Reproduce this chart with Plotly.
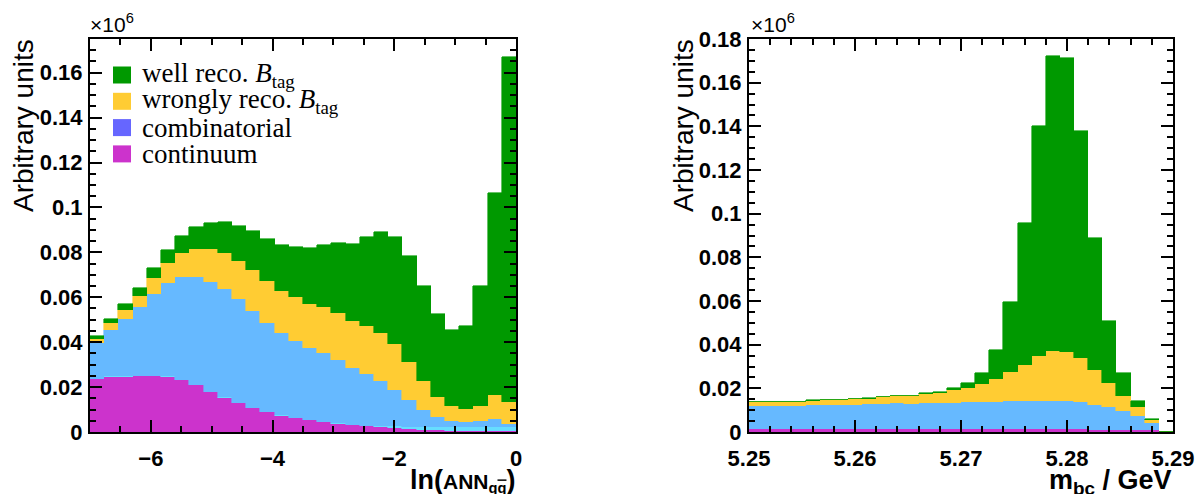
import plotly.graph_objects as go

# ---------------- data (left panel: ln(ANN_qq) ) ----------------
ann_lo, ann_hi, ann_nbins = -7.0, 0.0, 30
ann_continuum = [0.0236, 0.0247, 0.0247, 0.0250, 0.0250, 0.0247, 0.0230, 0.0209, 0.0179, 0.0153,
                 0.0129, 0.0105, 0.0087, 0.0073, 0.0062, 0.0052, 0.0044, 0.0037, 0.0031, 0.0025,
                 0.0021, 0.0016, 0.0012, 0.0009, 0.0007, 0.0006, 0.0004, 0.0004, 0.0003, 0.0003]
ann_other = [0.0001, 0.0001, 0.0001, 0.0001, 0.0001, 0.0001, 0.0001, 0.0001, 0.0001, 0.0001,
             0.0001, 0.0001, 0.0001, 0.0001, 0.0001, 0.0001, 0.0001, 0.0002, 0.0002, 0.0003,
             0.0005, 0.0009, 0.0012, 0.0015, 0.0017, 0.0018, 0.0019, 0.0019, 0.0020, 0.0020]
ann_combinatorial = [0.0159, 0.0207, 0.0257, 0.0306, 0.0365, 0.0414, 0.0459, 0.0480, 0.0490, 0.0485,
                     0.0463, 0.0433, 0.0399, 0.0367, 0.0343, 0.0320, 0.0305, 0.0282, 0.0253, 0.0231,
                     0.0202, 0.0163, 0.0120, 0.0075, 0.0044, 0.0025, 0.0020, 0.0024, 0.0033, 0.0013]
ann_wrong = [0.0017, 0.0029, 0.0039, 0.0050, 0.0068, 0.0089, 0.0109, 0.0125, 0.0143, 0.0160,
             0.0168, 0.0181, 0.0186, 0.0187, 0.0195, 0.0197, 0.0207, 0.0211, 0.0209, 0.0211,
             0.0213, 0.0202, 0.0167, 0.0126, 0.0089, 0.0065, 0.0059, 0.0070, 0.0111, 0.0099]
ann_well = [0.0015, 0.0018, 0.0026, 0.0033, 0.0045, 0.0059, 0.0075, 0.0098, 0.0117, 0.0134,
            0.0156, 0.0173, 0.0188, 0.0203, 0.0223, 0.0248, 0.0274, 0.0308, 0.0342, 0.0397,
            0.0448, 0.0477, 0.0473, 0.0425, 0.0369, 0.0338, 0.0371, 0.0535, 0.0897, 0.1535]

# ---------------- data (right panel: m_bc) ----------------
mbc_lo, mbc_hi, mbc_nbins = 5.25, 5.29, 30
mbc_continuum = [0.0016] * 16 + [0.0015, 0.0015, 0.0014, 0.0014, 0.0013, 0.0013, 0.0012, 0.0012,
                                 0.0011, 0.0011, 0.0010, 0.0009, 0.0008, 0.0]
mbc_combinatorial = [0.0102, 0.0102, 0.0102, 0.0103, 0.0106, 0.0106, 0.0108, 0.0109, 0.0111, 0.0112,
                     0.0115, 0.0111, 0.0115, 0.0119, 0.0119, 0.0120, 0.0121, 0.0124, 0.0127, 0.0127,
                     0.0131, 0.0129, 0.0129, 0.0126, 0.0111, 0.0102, 0.0085, 0.0066, 0.0034, 0.0]
mbc_wrong = [0.0018, 0.0018, 0.0020, 0.0019, 0.0022, 0.0023, 0.0023, 0.0025, 0.0024, 0.0031,
             0.0033, 0.0038, 0.0043, 0.0045, 0.0056, 0.0066, 0.0083, 0.0103, 0.0133, 0.0166,
             0.0203, 0.0227, 0.0224, 0.0201, 0.0161, 0.0112, 0.0070, 0.0038, 0.0015, 0.0]
mbc_well = [0.0001] * 8 + [0.0003, 0.0002, 0.0001, 0.0002, 0.0003, 0.0005, 0.0009, 0.0021, 0.0050,
                           0.0133, 0.0321, 0.0649, 0.1053, 0.1354, 0.1346, 0.1041, 0.0607, 0.0283,
                           0.0103, 0.0028, 0.0004, 0.0]

legend_labels = ["well reco. <i>B</i><sub>tag</sub>", "wrongly reco. <i>B</i><sub>tag</sub>",
                 "combinatorial", "continuum"]
legend_colors = ["#009900", "#ffcc33", "#6666ff", "#cc33cc"]

C_GREEN, C_YELLOW, C_LBLUE, C_MAG, C_CYAN = "#009900", "#ffcc33", "#66b9ff", "#cc33cc", "#66ddff"

W, H = 1204, 494


def centers(lo, hi, n):
    w = (hi - lo) / n
    return [lo + w * (i + 0.5) for i in range(n)], w


fig = go.Figure()


def add_stack(xaxis, yaxis, lo, hi, n, comps):
    xs, w = centers(lo, hi, n)
    for vals, col in comps:
        fig.add_trace(go.Bar(x=xs, y=vals, width=w, marker=dict(color=col, line=dict(color=col, width=0.6)),
                             xaxis=xaxis, yaxis=yaxis, showlegend=False, hoverinfo="skip"))


add_stack("x", "y", ann_lo, ann_hi, ann_nbins,
          [(ann_continuum, C_MAG), (ann_other, C_CYAN), (ann_combinatorial, C_LBLUE),
           (ann_wrong, C_YELLOW), (ann_well, C_GREEN)])
add_stack("x2", "y2", mbc_lo, mbc_hi, mbc_nbins,
          [(mbc_continuum, C_MAG), (mbc_combinatorial, C_LBLUE),
           (mbc_wrong, C_YELLOW), (mbc_well, C_GREEN)])


def px_x(p):
    return p / W


def px_y(p):
    return 1 - p / H


tickfont = dict(family="Liberation Sans", size=22, color="black", weight="bold")
axis_common = dict(showline=True, linecolor="black", linewidth=2, mirror="allticks", ticks="inside",
                   ticklen=12, tickwidth=2, tickcolor="black", showgrid=False, zeroline=False,
                   tickfont=tickfont, automargin=False)
minor_common = dict(ticks="inside", ticklen=6, tickwidth=2, tickcolor="black")

fig.update_layout(
    width=W, height=H, margin=dict(l=0, r=0, t=0, b=0, autoexpand=False),
    paper_bgcolor="white", plot_bgcolor="white",
    barmode="stack", bargap=0, showlegend=False,
    xaxis=dict(domain=[px_x(90), px_x(516)], range=[ann_lo, ann_hi], tick0=0, dtick=2,
               minor=dict(dtick=0.5, **minor_common), ticklabelstandoff=6, anchor="y", **axis_common),
    yaxis=dict(domain=[px_y(432), px_y(39)], range=[0, 0.175], tick0=0, dtick=0.02,
               minor=dict(dtick=0.005, **minor_common), anchor="x", ticklabelstandoff=1, **axis_common),
    xaxis2=dict(domain=[px_x(749), px_x(1173)], range=[mbc_lo, mbc_hi], tick0=5.25, dtick=0.01,
                minor=dict(dtick=0.002, **minor_common), ticklabelstandoff=6, anchor="y2", **axis_common),
    yaxis2=dict(domain=[px_y(432), px_y(39)], range=[0, 0.18], tick0=0, dtick=0.02,
                minor=dict(dtick=0.005, **minor_common), anchor="x2", ticklabelstandoff=1, **axis_common),
)

ann = []
# y-axis titles
for xc in (23, 683):
    ann.append(dict(text="Arbitrary units", x=px_x(xc), y=px_y(126), xref="paper", yref="paper",
                    textangle=-90, showarrow=False, xanchor="center", yanchor="middle",
                    font=dict(family="Liberation Sans", size=28, color="black")))
# x10^6 labels
for xl in (88, 749):
    ann.append(dict(text="×10<sup>6</sup>", x=px_x(xl), y=px_y(38), xref="paper", yref="paper",
                    showarrow=False, xanchor="left", yanchor="bottom",
                    font=dict(family="Liberation Sans", size=21, color="black")))
# x-axis titles
ann.append(dict(text="<b>ln(<span style='font-size:21px'>ANN<sub>q<span style='text-decoration:overline'>q</span>"
                     "</sub></span>)</b>",
                x=px_x(517), y=px_y(463), xref="paper", yref="paper", showarrow=False,
                xanchor="right", yanchor="top",
                font=dict(family="Liberation Sans", size=27, color="black")))
ann.append(dict(text="<b>m<sub>bc</sub> / GeV</b>",
                x=px_x(1174), y=px_y(463), xref="paper", yref="paper", showarrow=False,
                xanchor="right", yanchor="top",
                font=dict(family="Liberation Sans", size=27, color="black")))

# manual legend
shapes = []
row0, dy = 75, 26.3
for i, (lab, col) in enumerate(zip(legend_labels, legend_colors)):
    yc = row0 + i * dy
    shapes.append(dict(type="rect", xref="paper", yref="paper", x0=px_x(113), x1=px_x(131),
                       y0=px_y(yc + 8.5), y1=px_y(yc - 8.5), fillcolor=col, line=dict(width=0)))
    ann.append(dict(text=lab, x=px_x(140), y=px_y(yc), xref="paper", yref="paper", showarrow=False,
                    xanchor="left", yanchor="middle",
                    font=dict(family="Liberation Serif", size=27, color="black")))

fig.update_layout(annotations=ann, shapes=shapes)
fig.write_html("out.html", config={"displayModeBar": False},
               post_script="document.body.style.margin='0';document.body.style.overflow='hidden';")
